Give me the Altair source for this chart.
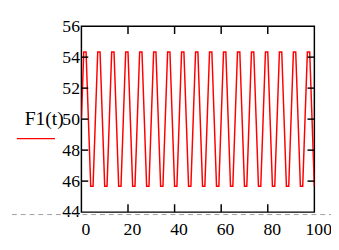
import altair as alt
import pandas as pd

# time samples (range variable t = 0..100, step 1)
t_values = list(range(0, 101))

# F1(t) values
f1_values = [
    50, 54.33, 54.33, 50, 45.67, 45.67,
    50, 54.33, 54.33, 50, 45.67, 45.67,
    50, 54.33, 54.33, 50, 45.67, 45.67,
    50, 54.33, 54.33, 50, 45.67, 45.67,
    50, 54.33, 54.33, 50, 45.67, 45.67,
    50, 54.33, 54.33, 50, 45.67, 45.67,
    50, 54.33, 54.33, 50, 45.67, 45.67,
    50, 54.33, 54.33, 50, 45.67, 45.67,
    50, 54.33, 54.33, 50, 45.67, 45.67,
    50, 54.33, 54.33, 50, 45.67, 45.67,
    50, 54.33, 54.33, 50, 45.67, 45.67,
    50, 54.33, 54.33, 50, 45.67, 45.67,
    50, 54.33, 54.33, 50, 45.67, 45.67,
    50, 54.33, 54.33, 50, 45.67, 45.67,
    50, 54.33, 54.33, 50, 45.67, 45.67,
    50, 54.33, 54.33, 50, 45.67, 45.67,
    50, 54.33, 54.33, 50, 45.67,
]

x_ticks = [0, 20, 40, 60, 80, 100]
y_ticks = [44, 46, 48, 50, 52, 54, 56]
x_inner_ticks = [20, 40, 60, 80]
y_inner_ticks = [46, 48, 50, 52, 54]

W, H = 238, 190
FONT = "Liberation Serif"

df = pd.DataFrame({"t": t_values, "F1": f1_values})
xt = pd.DataFrame({"v": x_inner_ticks})
yt = pd.DataFrame({"v": y_inner_ticks})

xscale = alt.Scale(domain=[0, 100], nice=False, zero=False)
yscale = alt.Scale(domain=[44, 56], nice=False, zero=False)

x_axis = alt.Axis(values=x_ticks, title=None, grid=False, ticks=False, domain=False,
                  labelFont=FONT, labelFontSize=18, labelColor="black",
                  labelPadding=9, labelOffset=4, labelFlush=False, labelOverlap=False)
y_axis = alt.Axis(values=y_ticks, title=None, grid=False, ticks=False, domain=False,
                  labelFont=FONT, labelFontSize=18, labelColor="black",
                  labelPadding=2, labelFlush=False, labelOverlap=False)

line = alt.Chart(df).mark_line(color="#ff0000", strokeWidth=1.5, clip=True).encode(
    x=alt.X("t:Q", scale=xscale, axis=x_axis, title=None),
    y=alt.Y("F1:Q", scale=yscale, axis=y_axis, title=None),
)

tick_color = "black"
left_ticks = alt.Chart(yt).mark_rule(color=tick_color, strokeWidth=1.5).encode(
    y=alt.Y("v:Q", scale=yscale, axis=y_axis, title=None), x=alt.value(0), x2=alt.value(7))
right_ticks = alt.Chart(yt).mark_rule(color=tick_color, strokeWidth=1.5).encode(
    y=alt.Y("v:Q", scale=yscale, axis=y_axis, title=None), x=alt.value(W - 7), x2=alt.value(W))
top_ticks = alt.Chart(xt).mark_rule(color=tick_color, strokeWidth=1.5).encode(
    x=alt.X("v:Q", scale=xscale, axis=x_axis, title=None), y=alt.value(0), y2=alt.value(8))
bottom_ticks = alt.Chart(xt).mark_rule(color=tick_color, strokeWidth=1.5).encode(
    x=alt.X("v:Q", scale=xscale, axis=x_axis, title=None), y=alt.value(H - 8), y2=alt.value(H))

label = alt.Chart(pd.DataFrame({"s": ["F1(t)"]})).mark_text(
    font=FONT, fontSize=20, color="black", align="right", baseline="middle"
).encode(text="s:N", x=alt.value(-18), y=alt.value(95))

legend_line = alt.Chart(pd.DataFrame({"s": ["F1(t)"]})).mark_rule(
    color="#ff0000", strokeWidth=1.3
).encode(x=alt.value(-66), x2=alt.value(-27), y=alt.value(115))

dashed = alt.Chart(pd.DataFrame({"s": ["d"]})).mark_rule(
    color="#a0a0a0", strokeWidth=1, strokeDash=[5, 4]
).encode(x=alt.value(-80), x2=alt.value(260), y=alt.value(H + 2.5))

chart = alt.layer(
    line, dashed, left_ticks, right_ticks, top_ticks, bottom_ticks, label, legend_line
).properties(
    width=W, height=H,
    autosize=alt.AutoSizeParams(type="none"),
    padding={"left": 75, "top": 16, "right": 17, "bottom": 28},
).configure_view(
    stroke="black", strokeWidth=1.5
).configure_axis(
    labelFont=FONT, labelFontSize=18, labelColor="black"
)

chart.save("out.html", embed_options={"renderer": "svg", "actions": False})
